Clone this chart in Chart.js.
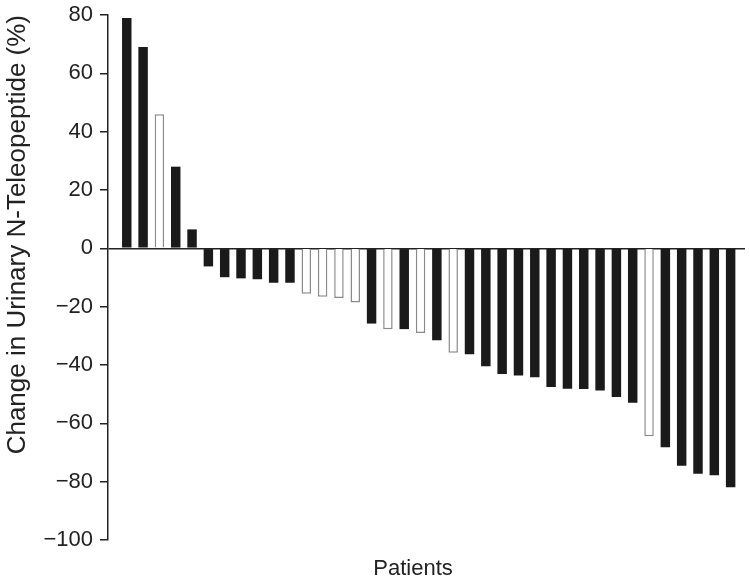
<!DOCTYPE html>
<html>
<head>
<meta charset="utf-8">
<script src="https://cdn.jsdelivr.net/npm/chart.js@4.4.1/dist/chart.umd.min.js"></script>
<style>
  html, body { margin: 0; padding: 0; background: #fff; }
  #wrap { width: 750px; height: 584px; }
</style>
</head>
<body>
<div id="wrap"><canvas id="myChart"></canvas></div>
<script>
const patients = [
  1, 2, 3, 4, 5, 6, 7, 8, 9, 10, 11, 12, 13, 14, 15, 16, 17, 18, 19,
  20, 21, 22, 23, 24, 25, 26, 27, 28, 29, 30, 31, 32, 33, 34, 35, 36, 37, 38,
];
const change = [
  79, 69, 46, 28, 6.5, -6.2, -9.9, -10.3, -10.6, -11.8, -11.8, -15.6, -16.6,
  -17, -18.6, -25.8, -27.7, -27.7, -29, -31.5, -35.8, -36.3, -40.4, -43.1,
  -43.6, -44.2, -47.5, -48.1, -48.2, -48.7, -51, -52.9, -64.4, -68.2, -74.5,
  -77.3, -77.8, -81.9,
];
// patients drawn as open bars
const openBars = [3, 12, 13, 14, 15, 17, 19, 21, 33];
const yTicks = [-100, -80, -60, -40, -20, 0, 20, 40, 60, 80];

const FONT = "'Liberation Sans', Arial, Helvetica, sans-serif";
const INK = "#222";

const isOpen = patients.map((p) => openBars.includes(p));

// "Patients" sits a little left of the plot centre in the original
const shiftXTitle = {
  id: "shiftXTitle",
  afterLayout(chart) {
    chart.scales.x.left -= 27;
  },
};

new Chart(document.getElementById("myChart"), {
  type: "bar",
  data: {
    datasets: [
      {
        data: patients.map((p, i) => ({ x: p, y: change[i] })),
        backgroundColor: isOpen.map((o) => (o ? "#ffffff" : "#1a1a1a")),
        borderColor: isOpen.map((o) => (o ? "#8a8a8a" : "#1a1a1a")),
        borderWidth: isOpen.map((o) => (o ? 1.5 : 0)),
        barPercentage: 0.58,
        categoryPercentage: 1,
      },
    ],
  },
  options: {
    responsive: true,
    maintainAspectRatio: false,
    animation: false,
    layout: { padding: { top: 15, right: 5, left: 0, bottom: 0 } },
    scales: {
      x: {
        type: "linear",
        min: -0.15,
        max: 38.88,
        offset: false,
        ticks: { display: false },
        grid: { display: false },
        border: { display: false },
        title: {
          display: true,
          text: "Patients",
          color: INK,
          font: { family: FONT, size: 22 },
          padding: { top: 0, bottom: 2 },
        },
        afterFit: (s) => { s.height = 44; },
      },
      y: {
        min: -100,
        max: 80,
        afterBuildTicks: (s) => { s.ticks = yTicks.map((v) => ({ value: v })); },
        ticks: {
          color: INK,
          font: { family: FONT, size: 22 },
          padding: 7,
          callback: (v) => String(v).replace("-", "\u2212"),
        },
        grid: {
          color: (c) => (c.tick && c.tick.value === 0 ? INK : "transparent"),
          lineWidth: 1.5,
          tickColor: INK,
          tickLength: 8,
        },
        border: { display: true, color: INK, width: 1.5 },
        title: {
          display: true,
          text: "Change in Urinary N-Teleopeptide (%)",
          align: "end",
          color: INK,
          font: { family: FONT, size: 26 },
          padding: { top: 2, bottom: 5 },
        },
        afterFit: (s) => {
          s.width = 108;
          s.paddingTop = 0;
          s.paddingBottom = 0;
        },
      },
    },
    plugins: {
      legend: { display: false },
      tooltip: { enabled: false },
    },
  },
  plugins: [shiftXTitle],
});
</script>
</body>
</html>
